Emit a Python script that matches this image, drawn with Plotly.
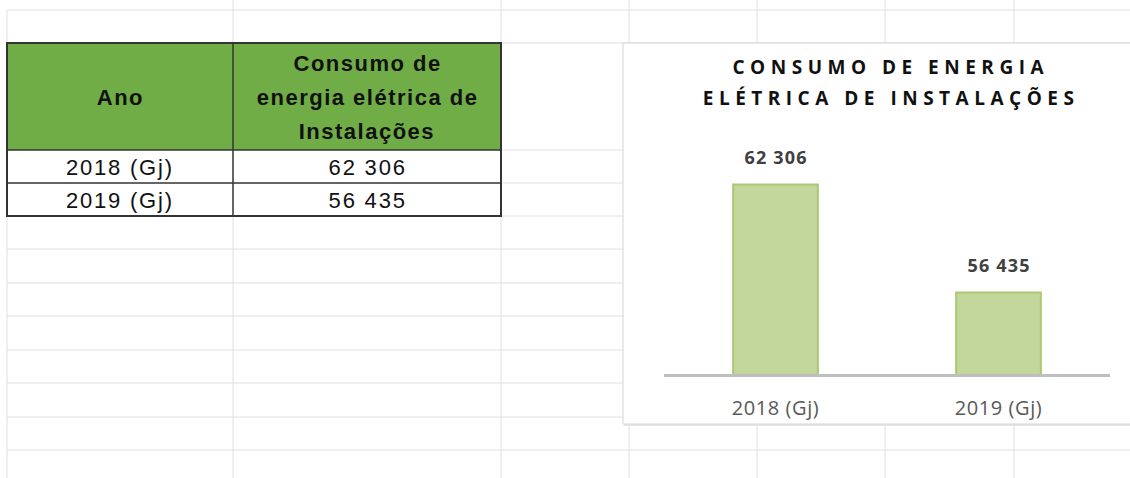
import json
import plotly.graph_objects as go

# ---------------- data ----------------
years = ["2018 (Gj)", "2019 (Gj)"]
consumo = [62306, 56435]
header_col1 = "Ano"
header_col2_lines = ["Consumo de", "energia elétrica de", "Instalações"]
chart_title_lines = ["CONSUMO DE ENERGIA", "ELÉTRICA DE INSTALAÇÕES"]

W, H = 1130, 478


def X(px):
    return px / W


def Y(py):
    return 1 - py / H


def fmt(v):
    return f"{v:,}".replace(",", " ")


shapes = []
annotations = []
spacing = {}  # annotation index -> letter spacing (px)


def add_ann(ls=0, **kw):
    annotations.append(kw)
    if ls:
        spacing[len(annotations) - 1] = ls


GRID = "#e0e0e0"
# spreadsheet grid: columns and rows
col_lines = [7, 233, 501, 629, 757, 885, 1014]
row_lines = [10, 43, 150, 183, 216, 249, 283, 316, 350, 383, 417, 450]
for cx in col_lines:
    y0 = 10 if cx == 7 else 0
    shapes.append(dict(type="line", xref="paper", yref="paper", x0=X(cx), x1=X(cx),
                       y0=Y(y0), y1=Y(H), line=dict(color=GRID, width=1), layer="below"))
for ry in row_lines:
    shapes.append(dict(type="line", xref="paper", yref="paper", x0=X(7), x1=X(W),
                       y0=Y(ry), y1=Y(ry), line=dict(color=GRID, width=1), layer="below"))

# ---------------- table ----------------
TB = "#333333"
shapes.append(dict(type="rect", xref="paper", yref="paper", x0=X(7), x1=X(501), y0=Y(150), y1=Y(43),
                   fillcolor="#70ad47", line=dict(width=0), layer="below"))
shapes.append(dict(type="rect", xref="paper", yref="paper", x0=X(7), x1=X(501), y0=Y(216), y1=Y(150),
                   fillcolor="white", line=dict(width=0), layer="below"))
shapes.append(dict(type="rect", xref="paper", yref="paper", x0=X(7), x1=X(501), y0=Y(216), y1=Y(43),
                   fillcolor="rgba(0,0,0,0)", line=dict(color=TB, width=2), layer="below"))
shapes.append(dict(type="line", xref="paper", yref="paper", x0=X(233), x1=X(233), y0=Y(216), y1=Y(43),
                   line=dict(color=TB, width=1.5), layer="below"))
for ry in (150, 183):
    shapes.append(dict(type="line", xref="paper", yref="paper", x0=X(7), x1=X(501), y0=Y(ry), y1=Y(ry),
                       line=dict(color=TB, width=1.5), layer="below"))

TF = "Liberation Sans, Arial, sans-serif"
add_ann(ls=1.5, text=f"<b>{header_col1}</b>", xref="paper", yref="paper", x=X(120), y=Y(97),
        showarrow=False, xanchor="center", yanchor="middle",
        font=dict(family=TF, size=22, color="#111111"))
for i, line in enumerate(header_col2_lines):
    add_ann(ls=1.5, text=f"<b>{line}</b>", xref="paper", yref="paper", x=X(367), y=Y(63 + 34.5 * i),
            showarrow=False, xanchor="center", yanchor="middle",
            font=dict(family=TF, size=22, color="#111111"))
for i, (yr, v) in enumerate(zip(years, consumo)):
    cy = 167 + 33 * i
    add_ann(ls=1.8, text=yr, xref="paper", yref="paper", x=X(120), y=Y(cy), showarrow=False,
            xanchor="center", yanchor="middle", font=dict(family=TF, size=22, color="#111111"))
    add_ann(ls=1.8, text=fmt(v), xref="paper", yref="paper", x=X(367), y=Y(cy), showarrow=False,
            xanchor="center", yanchor="middle", font=dict(family=TF, size=22, color="#111111"))

# ---------------- chart box ----------------
shapes.append(dict(type="rect", xref="paper", yref="paper", x0=X(624), x1=X(W + 5), y0=Y(426), y1=Y(44),
                   fillcolor="#e6e6e6", line=dict(width=0), layer="below"))
shapes.append(dict(type="rect", xref="paper", yref="paper", x0=X(623), x1=X(W + 5), y0=Y(424), y1=Y(43),
                   fillcolor="white", line=dict(color="#d4d4d4", width=1), layer="below"))

CF = "Open Sans, sans-serif"
for i, line in enumerate(chart_title_lines):
    add_ann(ls=5.5, text=f"<b>{line}</b>", xref="paper", yref="paper", x=X(891), y=Y(67 + 31 * i),
            showarrow=False, xanchor="center", yanchor="middle",
            font=dict(family=CF, size=19, color="#111111"))

# value labels above bars (data coordinates)
for yr, v in zip(years, consumo):
    add_ann(ls=1.2, text=f"<b>{fmt(v)}</b>", xref="x", yref="y", x=yr, y=v, showarrow=False,
            xanchor="center", yanchor="bottom", yshift=13,
            font=dict(family=CF, size=18, color="#404040"))

fig = go.Figure(go.Bar(
    x=years, y=consumo,
    marker=dict(color="#c3d69b", line=dict(color="#abc872", width=2)),
    hoverinfo="skip",
))

fig.update_layout(
    width=W, height=H,
    margin=dict(l=0, r=0, t=0, b=0),
    paper_bgcolor="white",
    plot_bgcolor="rgba(0,0,0,0)",
    showlegend=False,
    bargap=0.62,
    shapes=shapes,
    annotations=annotations,
    xaxis=dict(domain=[X(664), X(1110)], showline=True, linecolor="#bfbfbf", linewidth=3,
               ticks="outside", ticklen=14, tickcolor="rgba(0,0,0,0)",
               tickfont=dict(family=CF, size=20, color="#595959"), showgrid=False, zeroline=False,
               fixedrange=True),
    yaxis=dict(domain=[Y(374), Y(153.3)], range=[52000, 64000], visible=False, showgrid=False,
               zeroline=False, fixedrange=True),
)

post = """
document.body.style.margin='0';
document.body.style.padding='0';
var sp = %s;
Object.keys(sp).forEach(function(k){
  var g = document.querySelector('g.annotation[data-index="' + k + '"] text');
  if (g) { g.style.letterSpacing = sp[k] + 'px'; }
});
document.querySelectorAll('.xtick text').forEach(function(t){ t.style.letterSpacing='0.6px'; });
""" % json.dumps({str(k): v for k, v in spacing.items()})

fig.write_html("out.html", post_script=post, config={"displayModeBar": False})
